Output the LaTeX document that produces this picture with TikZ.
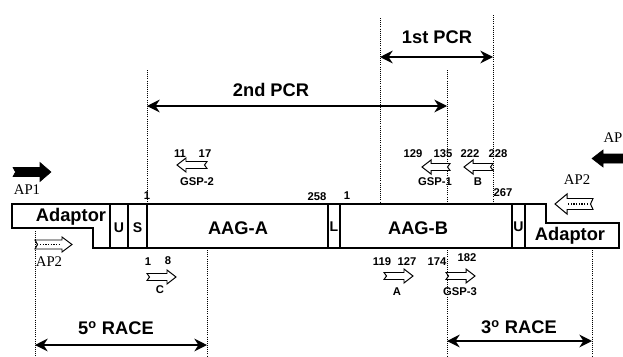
\documentclass[tikz,border=0pt]{standalone}
\usepackage{fontspec}
\setmainfont{Liberation Sans}
\newfontfamily\apfont{Liberation Serif}
\usetikzlibrary{arrows.meta}

\tikzset{
  guide/.style={densely dotted, line width=0.5pt},
  span/.style={{Stealth[length=9pt,width=9pt]}-{Stealth[length=9pt,width=9pt]}, line width=1.2pt},
  spanlabel/.style={font=\fontsize{13}{15}\selectfont\bfseries, inner sep=0pt},
  part/.style={line width=0.8pt},
  partlabel/.style={font=\fontsize{13}{15}\selectfont\bfseries, inner sep=0pt},
  slotlabel/.style={font=\fontsize{10}{12}\selectfont\bfseries, inner sep=0pt},
  posnum/.style={font=\fontsize{8}{9}\selectfont\bfseries, inner sep=0pt},
  primer/.style={line width=0.7pt, fill=white},
  apprimer/.style={fill=black},
  aplabel/.style={font=\apfont\fontsize{10.5}{12}\selectfont, inner sep=0pt},
}

% block arrow: tail x, tip x, y, shaft half height, head half height, head length
\newcommand{\blockarrow}[7][]{%
  \pgfmathsetmacro\bdir{sign(#3-#2)}%
  \draw[#1] (#2,{#4-#5}) -- ({#3-#7*\bdir},{#4-#5}) -- ({#3-#7*\bdir},{#4-#6})
    -- (#3,#4) -- ({#3-#7*\bdir},{#4+#6}) -- ({#3-#7*\bdir},{#4+#5})
    -- (#2,{#4+#5}) -- ({#2+2.5*\bdir},#4) -- cycle;}

\begin{document}
\begin{tikzpicture}[x=0.025cm, y=-0.025cm]
  \useasboundingbox (0,0) rectangle (623,356);
  \clip (0,0) rectangle (623,356);

  % guide lines
  \foreach \gx/\gtop/\gbot in {147/70/204, 380/18/204, 447/70/204, 493/15/204,
                              447/248/356, 35/231/356, 207/248/356, 592/248/356}
    \draw[guide] (\gx,\gtop) -- (\gx,\gbot);

  % construct
  \draw[part] (12,204) -- (110,204) -- (110,248) -- (93,248) -- (93,228) -- (12,228) -- cycle;
  \draw[part] (110,204) rectangle (512,248);
  \foreach \sx in {128,147,328,340,525}
    \draw[part] (\sx,204) -- (\sx,248);
  \draw[part] (512,204) -- (546,204) -- (546,223) -- (619,223) -- (619,248) -- (512,248);

  \node[partlabel] (adaptorL) at (71,217) {Adaptor};
  \node[slotlabel] (utrL) at (119,228) {U};
  \node[slotlabel] (signal) at (137.5,228) {S};
  \node[partlabel] (aagA) at (238,228) {AAG-A};
  \node[slotlabel] (linker) at (334,227) {L};
  \node[partlabel] (aagB) at (418,228) {AAG-B};
  \node[slotlabel] (utrR) at (518.5,227) {U};
  \node[partlabel] (adaptorR) at (570,236) {Adaptor};

  % positions on the construct
  \node[posnum] (posA1) at (147,196) {1};
  \node[posnum] (posA258) at (317,197) {258};
  \node[posnum] (posB1) at (347,196) {1};
  \node[posnum] (posB267) at (503,193) {267};

  % PCR and RACE spans
  \coordinate (pcrOneL) at (380,57);
  \coordinate (pcrOneR) at (493,57);
  \coordinate (pcrTwoL) at (147,106);
  \coordinate (pcrTwoR) at (447,106);
  \coordinate (raceFiveL) at (35,345);
  \coordinate (raceFiveR) at (207,345);
  \coordinate (raceThreeL) at (447,341);
  \coordinate (raceThreeR) at (592,341);
  \draw[span] (pcrOneL) -- (pcrOneR);
  \draw[span] (pcrTwoL) -- (pcrTwoR);
  \draw[span] (raceFiveL) -- (raceFiveR);
  \draw[span] (raceThreeL) -- (raceThreeR);
  \node[spanlabel] (pcrOne) at (437,37) {1st PCR};
  \node[spanlabel] (pcrTwo) at (271,90) {2nd PCR};
  \node[spanlabel] (raceFive) at (116,328) {5\textsuperscript{o} RACE};
  \node[spanlabel] (raceThree) at (519,327) {3\textsuperscript{o} RACE};

  % gene specific primers
  \blockarrow[primer]{207}{177}{165}{3.5}{7}{9}
  \node[posnum] (gsp2a) at (180,154) {11};
  \node[posnum] (gsp2b) at (205,154) {17};
  \node[posnum] (gsp2) at (197,182) {GSP-2};

  \blockarrow[primer]{450}{422}{167}{3.5}{7}{9}
  \node[posnum] (gsp1a) at (413,154) {129};
  \node[posnum] (gsp1b) at (443,154) {135};
  \node[posnum] (gsp1) at (435,182) {GSP-1};

  \blockarrow[primer]{493}{464}{167}{3.5}{7}{9}
  \node[posnum] (primBa) at (470,154) {222};
  \node[posnum] (primBb) at (498,154) {228};
  \node[posnum] (primB) at (478,182) {B};

  \blockarrow[primer]{147}{176}{277}{3.5}{7}{9}
  \node[posnum] (primCa) at (148,262) {1};
  \node[posnum] (primCb) at (168,261) {8};
  \node[posnum] (primC) at (160,290) {C};

  \blockarrow[primer]{384}{413}{276}{3.5}{7}{9}
  \node[posnum] (primAa) at (382,262) {119};
  \node[posnum] (primAb) at (407,262) {127};
  \node[posnum] (primA) at (397,292) {A};

  \blockarrow[primer]{446}{475}{276}{3.5}{7}{9}
  \node[posnum] (gsp3a) at (437,262) {174};
  \node[posnum] (gsp3b) at (467,258) {182};
  \node[posnum] (gsp3) at (460,292) {GSP-3};

  % adaptor primers
  \blockarrow[apprimer]{13}{51}{172}{4.5}{9.5}{11}
  \node[aplabel] (apOneL) at (27,190) {AP1};
  \blockarrow[primer]{35}{72}{244.5}{4.5}{7.5}{10}
  \draw[densely dotted, line width=0.9pt] (40,244.5) -- (60,244.5);
  \node[aplabel] (apTwoL) at (49,262) {AP2};

  \blockarrow[apprimer]{640}{592}{158.5}{4.5}{8.5}{11}
  \node[aplabel] (apOneR) at (613,138) {AP};
  \blockarrow[primer]{593}{555}{204}{5.5}{10}{12}
  \draw[densely dotted, line width=0.9pt] (588,204) -- (568,204);
  \node[aplabel] (apTwoR) at (577,180) {AP2};
\end{tikzpicture}
\end{document}
